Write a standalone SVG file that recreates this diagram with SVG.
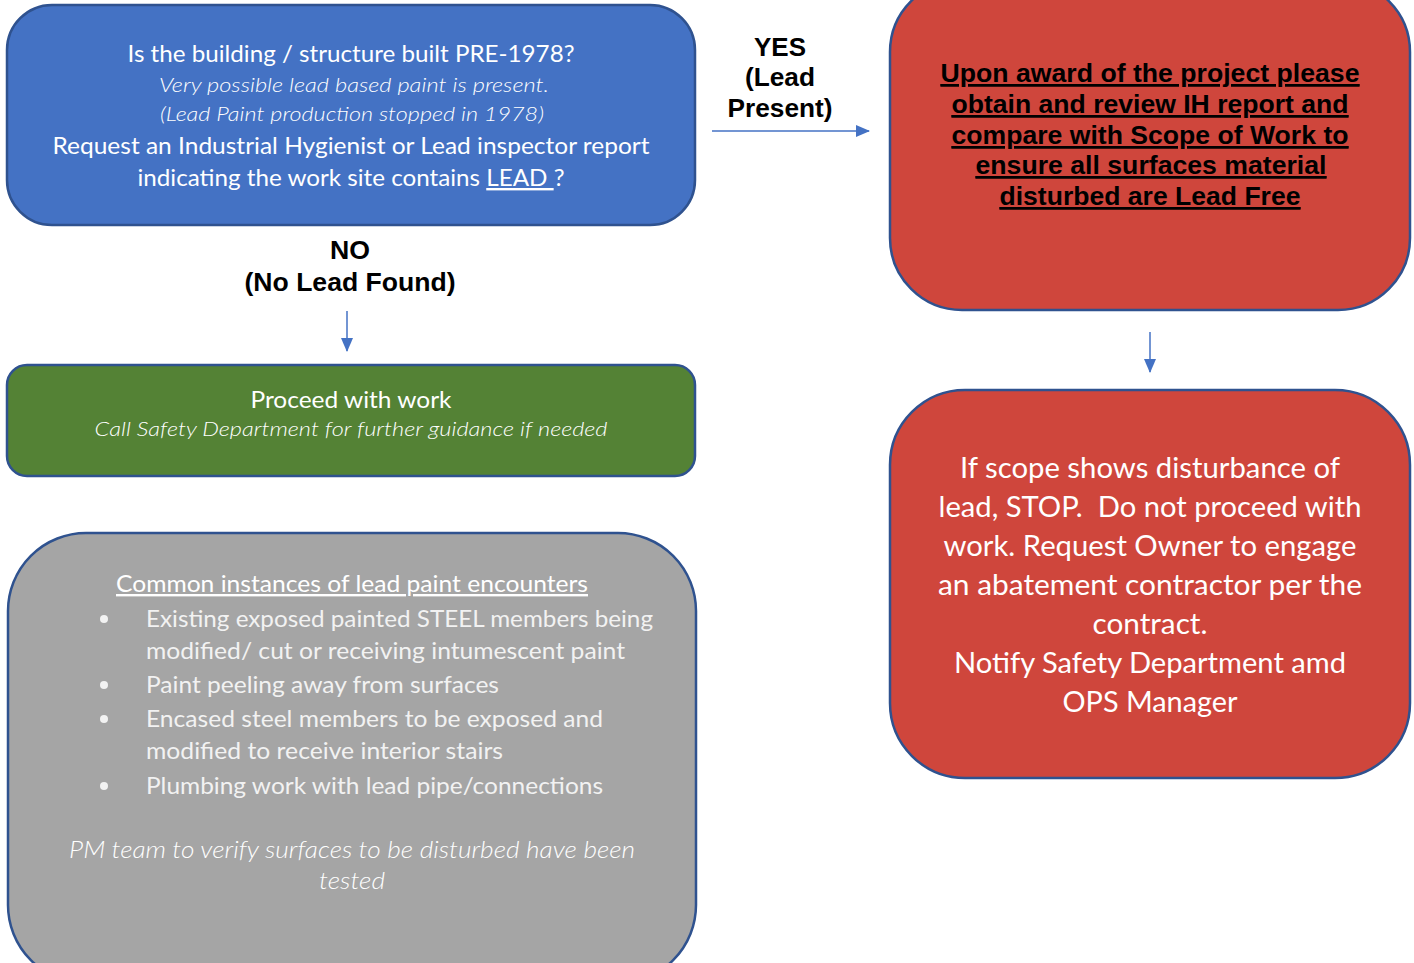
<svg xmlns="http://www.w3.org/2000/svg" width="1414" height="963" viewBox="0 0 1414 963">
  <defs>
    <style>
      .box { stroke: #2F528F; stroke-width: 2.5; }
      .blue { fill: #4472C4; }
      .green { fill: #548235; }
      .grey { fill: #A5A5A5; }
      .red { fill: #CF463C; }
      .t { font-family: Lato, "Open Sans", "Liberation Sans", sans-serif; fill: #FFFFFF; text-anchor: middle; }
      .tl { font-family: Lato, "Open Sans", "Liberation Sans", sans-serif; fill: #F2F2F2; }
      .it { font-style: italic; font-weight: 300; }
      .lbl { font-family: "Liberation Sans", Arial, sans-serif; font-weight: bold; fill: #000000; text-anchor: middle; }
      .conn { stroke: #4472C4; stroke-width: 1.5; fill: none; marker-end: url(#arrow); }
    </style>
    <marker id="arrow" viewBox="0 0 14 12" refX="13" refY="6" markerWidth="14" markerHeight="12" markerUnits="userSpaceOnUse" orient="auto">
      <path d="M0,0 L14,6 L0,12 z" fill="#4472C4"/>
    </marker>
  </defs>
  <rect width="1414" height="963" fill="#FFFFFF"/>

  <!-- question box -->
  <g id="question">
    <rect class="box blue" x="7" y="5" width="688" height="220" rx="45" ry="45"/>
    <text class="t" x="351" y="62" font-size="24" textLength="447" lengthAdjust="spacingAndGlyphs">Is the building / structure built PRE-1978?</text>
    <text class="t it" x="354" y="92" font-size="20" fill="#E8ECF6" textLength="390" lengthAdjust="spacingAndGlyphs">Very possible lead based paint is present.</text>
    <text class="t it" x="352" y="121" font-size="20" textLength="384" lengthAdjust="spacingAndGlyphs">(Lead Paint production stopped in 1978)</text>
    <text class="t" x="351" y="154" font-size="24" textLength="597" lengthAdjust="spacingAndGlyphs">Request an Industrial Hygienist or Lead inspector report</text>
    <text class="t" x="351" y="186" font-size="24" textLength="427" lengthAdjust="spacingAndGlyphs">indicating the work site contains <tspan text-decoration="underline">LEAD </tspan>?</text>
  </g>

  <!-- review report box -->
  <g id="review">
    <rect class="box red" x="890" y="-20" width="520" height="330" rx="72" ry="72"/>
    <g class="lbl" font-size="25" text-decoration="underline">
      <text x="1150" y="82" textLength="419" lengthAdjust="spacingAndGlyphs" text-decoration="underline">Upon award of the project please</text>
      <text x="1150" y="113" textLength="397" lengthAdjust="spacingAndGlyphs" text-decoration="underline">obtain and review IH report and</text>
      <text x="1150" y="144" textLength="397" lengthAdjust="spacingAndGlyphs" text-decoration="underline">compare with Scope of Work to</text>
      <text x="1151" y="174" textLength="351" lengthAdjust="spacingAndGlyphs" text-decoration="underline">ensure all surfaces material</text>
      <text x="1150" y="205" textLength="301" lengthAdjust="spacingAndGlyphs" text-decoration="underline">disturbed are Lead Free</text>
    </g>
  </g>

  <!-- proceed box -->
  <g id="proceed">
    <rect class="box green" x="7" y="365" width="688" height="111" rx="20" ry="20"/>
    <text class="t" x="351" y="408" font-size="24" textLength="201" lengthAdjust="spacingAndGlyphs">Proceed with work</text>
    <text class="t it" x="351" y="436" font-size="20" textLength="513" lengthAdjust="spacingAndGlyphs">Call Safety Department for further guidance if needed</text>
  </g>

  <!-- stop box -->
  <g id="stop">
    <rect class="box red" x="890" y="390" width="520" height="388" rx="75" ry="75"/>
    <g class="t" font-size="28">
      <text x="1150" y="478" textLength="380" lengthAdjust="spacingAndGlyphs">If scope shows disturbance of</text>
      <text x="1150" y="517" textLength="423" lengthAdjust="spacingAndGlyphs" xml:space="preserve">lead, STOP.  Do not proceed with</text>
      <text x="1150" y="556" textLength="413" lengthAdjust="spacingAndGlyphs">work. Request Owner to engage</text>
      <text x="1150" y="595" textLength="424" lengthAdjust="spacingAndGlyphs">an abatement contractor per the</text>
      <text x="1150" y="634" textLength="115" lengthAdjust="spacingAndGlyphs">contract.</text>
      <text x="1150" y="673" textLength="392" lengthAdjust="spacingAndGlyphs">Notify Safety Department amd</text>
      <text x="1150" y="712" textLength="175" lengthAdjust="spacingAndGlyphs">OPS Manager</text>
    </g>
  </g>

  <!-- examples box -->
  <g id="examples">
    <rect class="box grey" x="8" y="533" width="688" height="450" rx="78" ry="78"/>
    <text class="t" x="352" y="592" font-size="24" fill="#F2F2F2" textLength="472" lengthAdjust="spacingAndGlyphs" text-decoration="underline">Common instances of lead paint encounters</text>
    <g fill="#F2F2F2">
      <circle cx="104" cy="619" r="4"/>
      <circle cx="104" cy="685" r="4"/>
      <circle cx="104" cy="719" r="4"/>
      <circle cx="104" cy="786" r="4"/>
    </g>
    <g class="tl" font-size="24">
      <text x="146" y="627" textLength="507" lengthAdjust="spacingAndGlyphs">Existing exposed painted STEEL members being</text>
      <text x="146" y="659" textLength="479" lengthAdjust="spacingAndGlyphs">modified/ cut or receiving intumescent paint</text>
      <text x="146" y="693" textLength="353" lengthAdjust="spacingAndGlyphs">Paint peeling away from surfaces</text>
      <text x="146" y="727" textLength="457" lengthAdjust="spacingAndGlyphs">Encased steel members to be exposed and</text>
      <text x="146" y="759" textLength="357" lengthAdjust="spacingAndGlyphs">modified to receive interior stairs</text>
      <text x="146" y="794" textLength="457" lengthAdjust="spacingAndGlyphs">Plumbing work with lead pipe/connections</text>
    </g>
    <text class="t it" x="352" y="858" font-size="24" fill="#E6E6E6" textLength="566" lengthAdjust="spacingAndGlyphs">PM team to verify surfaces to be disturbed have been</text>
    <text class="t it" x="352" y="889" font-size="24" fill="#E6E6E6" textLength="66" lengthAdjust="spacingAndGlyphs">tested</text>
  </g>

  <!-- connectors -->
  <g id="connectors">
    <line class="conn" x1="712" y1="131" x2="869" y2="131"/>
    <line class="conn" x1="347" y1="311" x2="347" y2="351"/>
    <line class="conn" x1="1150" y1="332" x2="1150" y2="372"/>
    <g class="lbl" font-size="26">
      <text x="780" y="56" textLength="52" lengthAdjust="spacingAndGlyphs">YES</text>
      <text x="780" y="86" textLength="70" lengthAdjust="spacingAndGlyphs">(Lead</text>
      <text x="780" y="117" textLength="105" lengthAdjust="spacingAndGlyphs">Present)</text>
      <text x="350" y="259" textLength="40" lengthAdjust="spacingAndGlyphs">NO</text>
      <text x="350" y="291" textLength="211" lengthAdjust="spacingAndGlyphs">(No Lead Found)</text>
    </g>
  </g>
</svg>
